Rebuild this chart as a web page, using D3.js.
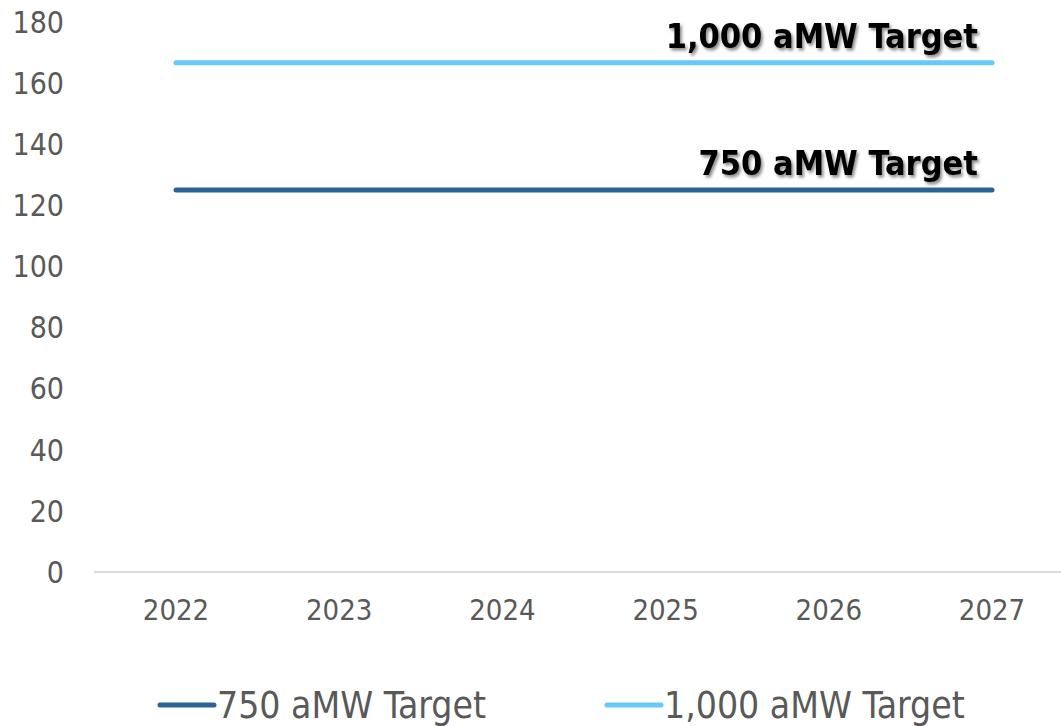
<!DOCTYPE html>
<html><head><meta charset="utf-8">
<script src="https://cdn.jsdelivr.net/npm/d3@7"></script>
<style>body{margin:0;background:#fff}svg{display:block}</style>
</head><body>
<svg id="c" width="1061" height="726"></svg>
<script>
const years = ["2022","2023","2024","2025","2026","2027"];
const target750 = [125,125,125,125,125,125];
const target1000 = [166.67,166.67,166.67,166.67,166.67,166.67];
const yTicks = [0,20,40,60,80,100,120,140,160,180];
const seriesNames = ["750 aMW Target","1,000 aMW Target"];
const seriesColors = ["#2a6496","#66c9f8"];

const svg = d3.select("#c");
const x = d3.scaleBand().domain(years).range([94.4,1073.6]);
const y = d3.scaleLinear().domain([0,180]).range([572,22]);
const cx = d => x(d) + x.bandwidth()/2;
const axisFont = "DejaVu Sans Condensed, DejaVu Sans, sans-serif";

const defs = svg.append("defs");
const f = defs.append("filter").attr("id","sh").attr("x","-10%").attr("y","-30%").attr("width","120%").attr("height","170%");
f.append("feDropShadow").attr("dx",2).attr("dy",2.5).attr("stdDeviation",1.5).attr("flood-color","#000").attr("flood-opacity",0.45);

// y axis labels
svg.append("g").selectAll("text").data(yTicks).join("text")
  .attr("x",64).attr("y",d=>y(d)).attr("dy","0.36em").attr("text-anchor","end")
  .attr("font-family",axisFont).attr("font-size",30).attr("fill","#595959")
  .text(d=>d);

// x axis
svg.append("line").attr("x1",94).attr("x2",1061).attr("y1",y(0)).attr("y2",y(0))
  .attr("stroke","#d9d9d9").attr("stroke-width",2);
svg.append("g").selectAll("text").data(years).join("text")
  .attr("x",d=>cx(d)).attr("y",610).attr("dy","0.36em").attr("text-anchor","middle")
  .attr("font-family",axisFont).attr("font-size",29).attr("fill","#595959")
  .text(d=>d);

const series = [target750, target1000];
const line = d3.line().x((d,i)=>cx(years[i])).y(d=>y(d));
series.forEach((s,k)=>{
  svg.append("path").attr("d",line(s)).attr("fill","none")
    .attr("stroke",seriesColors[k]).attr("stroke-width",5).attr("stroke-linecap","round");
  svg.append("text").attr("x",cx(years[5])-14).attr("y",y(s[5])-15)
    .attr("text-anchor","end").attr("font-family",axisFont).attr("font-weight","bold")
    .attr("font-size",34).attr("fill","#000").attr("filter","url(#sh)")
    .text(seriesNames[k]);
});

// legend
const legX = [160,607];
seriesNames.forEach((n,k)=>{
  const g = svg.append("g");
  g.append("line").attr("x1",legX[k]).attr("x2",legX[k]+54).attr("y1",705).attr("y2",705)
    .attr("stroke",seriesColors[k]).attr("stroke-width",5).attr("stroke-linecap","round");
  g.append("text").attr("x",legX[k]+57).attr("y",705).attr("dy","0.36em")
    .attr("font-family",axisFont).attr("font-size",37).attr("fill","#595959")
    .text(n);
});
</script>
</body></html>
